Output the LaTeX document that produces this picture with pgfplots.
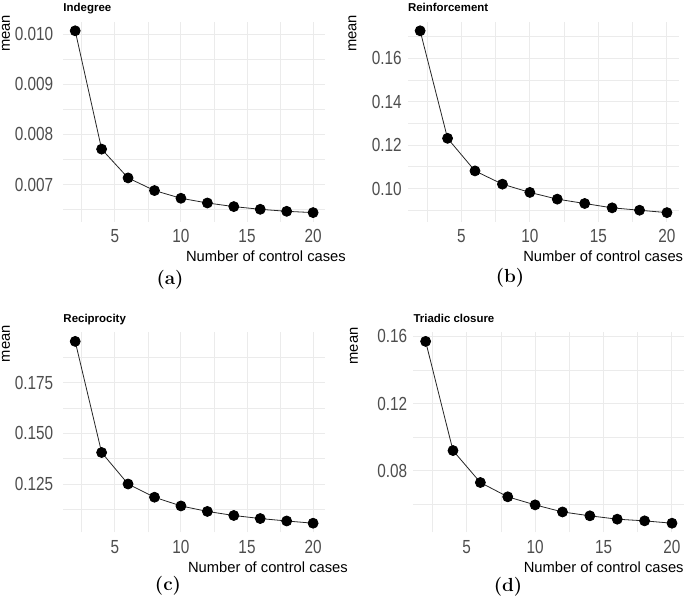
\documentclass[border=0pt]{standalone}
\usepackage{fontspec}
\setmainfont{Liberation Sans}
\newfontfamily\capfont{Latin Modern Roman}
\usepackage{pgfplots}
\pgfplotsset{compat=1.18}
\definecolor{gridgray}{RGB}{235,235,235}
\definecolor{ticktext}{RGB}{77,77,77}

\pgfplotsset{
  panel/.style={
    scale only axis, height=200bp,
    axis line style={draw=none}, tick style={draw=none},
    scaled ticks=false,
    xmin=1.1, xmax=20.9, enlarge y limits=0.05,
    xtick={5,10,15,20}, xticklabels={5,10,15,20},
    minor xtick={2.5,7.5,12.5,17.5},
    grid=both,
    major grid style={draw=gridgray, line width=1bp},
    minor grid style={draw=gridgray, line width=0.7bp},
    tick label style={font=\fontsize{19}{19}\selectfont, text=ticktext, inner sep=0pt, xscale=0.81},
    xticklabel style={anchor=north}, yticklabel style={anchor=east},
    xticklabel shift=7.5bp,
    every axis title/.style={at={(axis description cs:0,1)}, anchor=base west,
      yshift=10bp, inner sep=0pt, font=\bfseries\fontsize{11.5}{12}\selectfont},
    every axis x label/.style={anchor=east, inner sep=0pt, font=\fontsize{14.8}{15}\selectfont},
    every axis y label/.style={rotate=90, anchor=east, inner sep=0pt, font=\fontsize{14.8}{15}\selectfont},
  },
  curve/.style={black!85, line width=0.8bp, mark=*, mark size=5bp,
    mark options={fill=black, draw=black}},
}

\begin{document}
\begin{tikzpicture}
\path[use as bounding box] (0,0) rectangle (685bp,-600bp);

% (a) Indegree
\begin{axis}[panel, at={(63.3bp,-221.7bp)}, anchor=south west, width=261.7bp,
  yticklabel shift=10bp,
  ytick={0.007,0.008,0.009,0.010}, yticklabels={0.007,0.008,0.009,0.010},
  minor ytick={0.0065,0.0075,0.0085,0.0095},
  title={Indegree},
  xlabel={Number of control cases},
  xlabel style={at={([xshift=21bp,yshift=-35bp]axis description cs:1,0)}},
  ylabel={mean},
  ylabel style={at={([xshift=-57.3bp,yshift=7bp]axis description cs:0,1)}},
  ]
  \addplot[curve] coordinates {
    (2,0.010066) (4,0.007706) (6,0.007132) (8,0.006880) (10,0.006726)
    (12,0.006632) (14,0.006560) (16,0.006506) (18,0.006466) (20,0.006440)
  };
\end{axis}

% (b) Reinforcement
\begin{axis}[panel, at={(407.8bp,-221.7bp)}, anchor=south west, width=271.5bp,
  yticklabel shift=6bp,
  ytick={0.10,0.12,0.14,0.16}, yticklabels={0.10,0.12,0.14,0.16},
  minor ytick={0.09,0.11,0.13,0.15,0.17},
  title={Reinforcement},
  xlabel={Number of control cases},
  xlabel style={at={([xshift=4bp,yshift=-35bp]axis description cs:1,0)}},
  ylabel={mean},
  ylabel style={at={([xshift=-55.3bp,yshift=7bp]axis description cs:0,1)}},
  ]
  \addplot[curve] coordinates {
    (2,0.1726) (4,0.1231) (6,0.1081) (8,0.1020) (10,0.0982)
    (12,0.0951) (14,0.0931) (16,0.0911) (18,0.0900) (20,0.0889)
  };
\end{axis}

% (c) Reciprocity
\begin{axis}[panel, at={(63.3bp,-532.3bp)}, anchor=south west, width=261.7bp,
  yticklabel shift=10bp,
  ytick={0.125,0.150,0.175}, yticklabels={0.125,0.150,0.175},
  minor ytick={0.1125,0.1375,0.1625,0.1875},
  title={Reciprocity},
  xlabel={Number of control cases},
  xlabel style={at={([xshift=23bp,yshift=-35bp]axis description cs:1,0)}},
  ylabel={mean},
  ylabel style={at={([xshift=-57.3bp,yshift=7.3bp]axis description cs:0,1)}},
  ]
  \addplot[curve] coordinates {
    (2,0.1953) (4,0.1406) (6,0.1251) (8,0.1186) (10,0.1143)
    (12,0.1116) (14,0.1096) (16,0.1081) (18,0.1069) (20,0.1058)
  };
\end{axis}

% (d) Triadic closure
\begin{axis}[panel, at={(413.3bp,-532.3bp)}, anchor=south west, width=271bp,
  yticklabel shift=6bp,
  ytick={0.08,0.12,0.16}, yticklabels={0.08,0.12,0.16},
  minor ytick={0.06,0.10,0.14},
  title={Triadic closure},
  xlabel={Number of control cases},
  xlabel style={at={([xshift=-0.5bp,yshift=-35bp]axis description cs:1,0)}},
  ylabel={mean},
  ylabel style={at={([xshift=-59.3bp,yshift=5bp]axis description cs:0,1)}},
  ]
  \addplot[curve] coordinates {
    (2,0.1570) (4,0.0921) (6,0.0731) (8,0.0646) (10,0.0598)
    (12,0.0556) (14,0.0533) (16,0.0513) (18,0.0503) (20,0.0489)
  };
\end{axis}

\begin{scope}[every node/.style={font=\capfont\bfseries\fontsize{19}{19}\selectfont}]
  \node at (170bp,-280bp) {(a)};
  \node at (510bp,-278bp) {(b)};
  \node at (168bp,-586bp) {(c)};
  \node at (508bp,-586.7bp) {(d)};
\end{scope}
\end{tikzpicture}
\end{document}
